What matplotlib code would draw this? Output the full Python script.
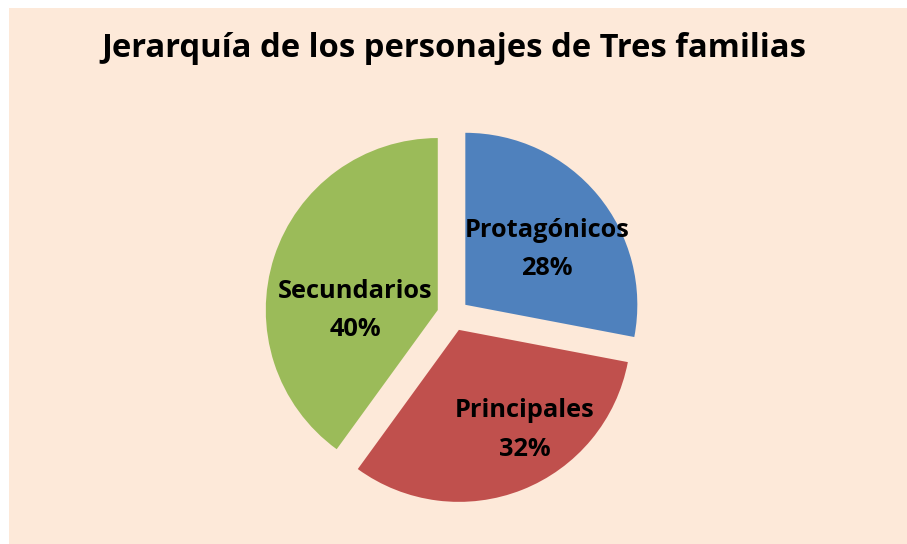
import matplotlib
matplotlib.use("Agg")
import matplotlib.pyplot as plt
from matplotlib.patches import Rectangle

# ---- data ----
title = "Jerarquía de los personajes de Tres familias"
categories = ["Protagónicos", "Principales", "Secundarios"]
shares = [28, 32, 40]
colors = ["#4F81BD", "#C0504D", "#9BBB59"]

plt.rcParams['font.family'] = ['Open Sans', 'DejaVu Sans']

W, H = 907, 544
fig = plt.figure(figsize=(W / 100, H / 100), dpi=100)
fig.patch.set_facecolor("white")
fig.add_artist(Rectangle((9 / W, -0.05), 1.1, (H - 8) / H + 0.05, transform=fig.transFigure,
                         facecolor="#FDE9D9", edgecolor="none", zorder=0))

ax = fig.add_axes([0, 0, 1, 1])
ax.patch.set_alpha(0)

cx, cy, r = 453, H - 315, 172
wedges, _ = ax.pie(shares, colors=colors, startangle=90, counterclock=False,
                   explode=[16] * 3, radius=r, center=(cx, cy),
                   wedgeprops=dict(linewidth=0))
ax.set_xlim(0, W)
ax.set_ylim(0, H)
ax.set_aspect('equal')
ax.axis('off')

renderer = fig.canvas.get_renderer()


def fit(t, target_w):
    w = t.get_window_extent(renderer).width
    t.set_fontsize(t.get_fontsize() * target_w / w)


# label baselines (pixels from top-left): x, name baseline, percent baseline
label_pos = [(547, 237, 275), (525, 417, 456), (355, 298, 336)]
size_probe = ax.text(0, 0, "Secundarios", fontsize=16, fontweight="bold")
fit(size_probe, 155)
lab_fs = size_probe.get_fontsize()
size_probe.remove()
for name, val, (lx, y1, y2) in zip(categories, shares, label_pos):
    ax.text(lx, H - y1, name, ha="center", va="baseline",
            fontsize=lab_fs, fontweight="bold", color="black")
    ax.text(lx, H - y2, f"{val}%", ha="center", va="baseline",
            fontsize=lab_fs, fontweight="bold", color="black")

tt = fig.text(453.5 / W, 1 - 57 / H, title, ha="center", va="baseline",
              fontsize=22, fontweight="bold", color="black")
fit(tt, 703)

fig.savefig("out.png", dpi=100)
